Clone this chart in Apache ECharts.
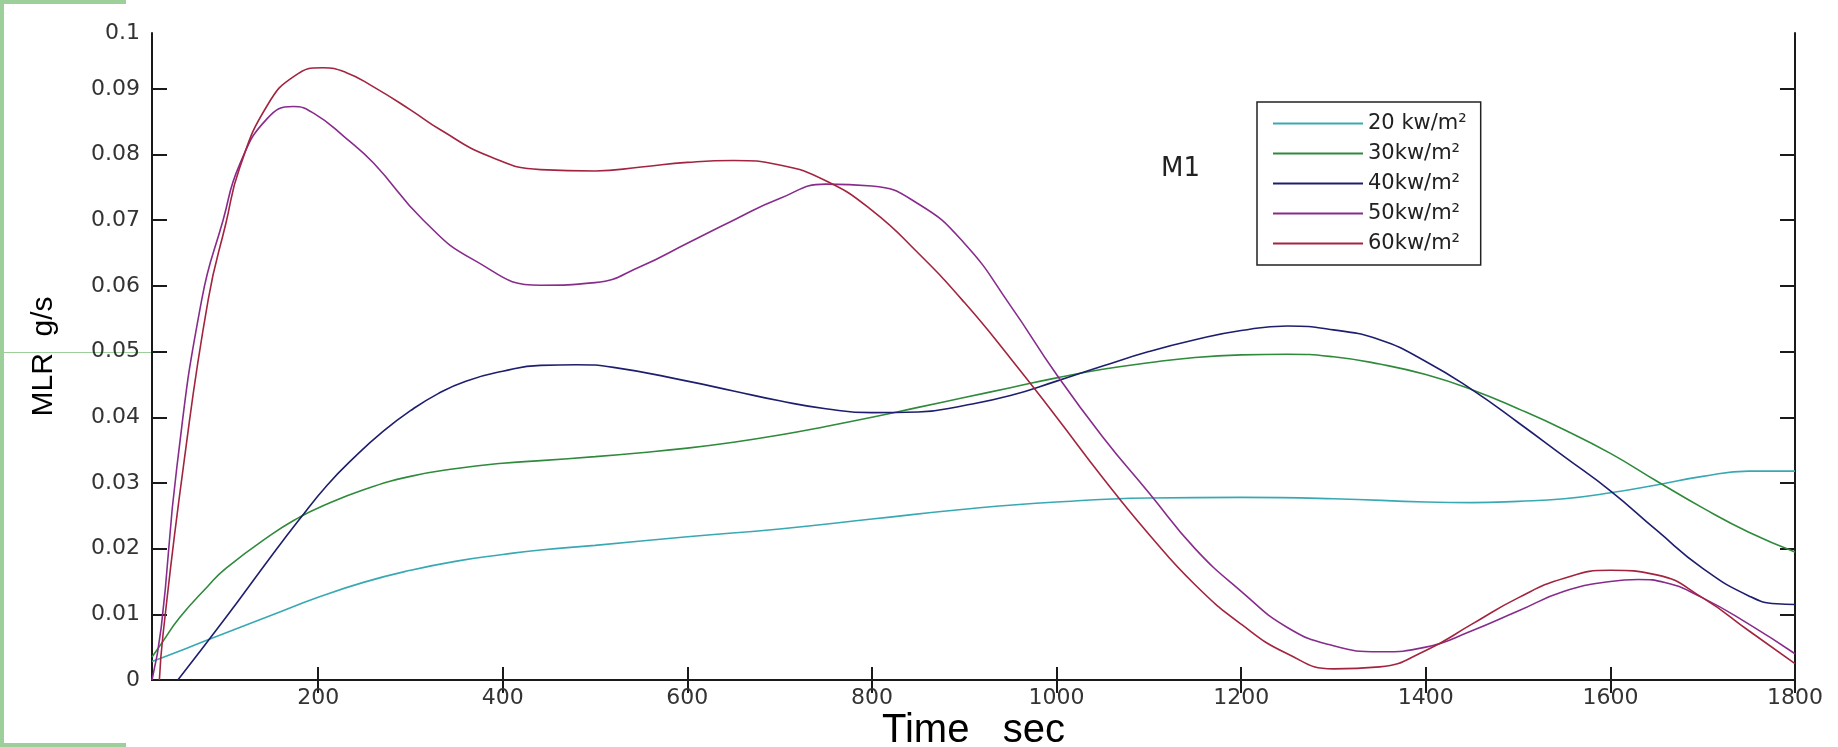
<!DOCTYPE html>
<html>
<head>
<meta charset="utf-8">
<script src="https://cdn.jsdelivr.net/npm/echarts@6/dist/echarts.min.js"></script>
<style>
    html, body { margin: 0; padding: 0; background: #fff; }
    #chart { width: 1838px; height: 747px; }
</style>
</head>
<body>
<div id="chart"></div>
<script>
// [time (sec), MLR (g/s)]
var kw20 = [[20,0.0028],[50,0.0044],[80,0.0061],[150,0.0099],[200,0.0126],[250,0.0149],[300,0.0167],[350,0.0181],[400,0.0191],[441,0.0198],[500,0.0205],[600,0.0218],[700,0.0230],[800,0.0245],[900,0.0260],[1000,0.0271],[1100,0.0277],[1200,0.0278],[1300,0.0276],[1400,0.0271],[1450,0.0270],[1500,0.0272],[1550,0.0276],[1600,0.0285],[1650,0.0297],[1700,0.0310],[1750,0.0318],[1800,0.0318]];
var kw30 = [[20,0.0035],[30,0.0055],[50,0.0095],[80,0.0142],[100,0.0170],[150,0.0222],[180,0.0248],[200,0.0262],[250,0.0290],[300,0.0310],[350,0.0322],[400,0.0330],[441,0.0334],[500,0.0340],[550,0.0346],[600,0.0353],[650,0.0362],[700,0.0373],[750,0.0386],[800,0.0400],[850,0.0415],[900,0.0430],[950,0.0445],[1000,0.0460],[1050,0.0473],[1100,0.0483],[1150,0.0491],[1200,0.0495],[1250,0.0496],[1300,0.0492],[1350,0.0481],[1400,0.0465],[1450,0.0442],[1500,0.0413],[1550,0.0381],[1600,0.0345],[1650,0.0303],[1700,0.0262],[1750,0.0225],[1800,0.0195]];
var kw40 = [[48,0],[100,0.0095],[150,0.0190],[180,0.0245],[210,0.0297],[240,0.0340],[270,0.0378],[300,0.0410],[330,0.0436],[360,0.0455],[400,0.0470],[441,0.0479],[480,0.0480],[520,0.0476],[600,0.0455],[650,0.0440],[700,0.0425],[750,0.0413],[800,0.0407],[850,0.0408],[900,0.0418],[950,0.0433],[1000,0.0455],[1050,0.0478],[1100,0.0500],[1150,0.0518],[1200,0.0532],[1250,0.0539],[1300,0.0533],[1350,0.0518],[1400,0.0485],[1450,0.0442],[1500,0.0392],[1550,0.0340],[1600,0.0288],[1650,0.0228],[1700,0.0170],[1750,0.0128],[1780,0.0116],[1800,0.0115]];
var kw50 = [[20,0],[30,0.008],[47,0.0325],[74,0.058],[97,0.070],[115,0.0785],[145,0.0855],[173,0.0873],[195,0.0863],[230,0.0825],[260,0.0787],[314,0.0700],[368,0.0640],[441,0.0601],[500,0.0605],[550,0.0630],[600,0.0665],[650,0.0700],[700,0.0733],[750,0.0755],[800,0.0752],[850,0.0725],[900,0.0665],[950,0.0570],[1000,0.0465],[1050,0.0370],[1100,0.0285],[1150,0.0200],[1200,0.0135],[1250,0.0080],[1300,0.0052],[1350,0.0043],[1400,0.0050],[1450,0.0075],[1500,0.0105],[1550,0.0135],[1600,0.0150],[1630,0.0153],[1660,0.0148],[1700,0.0125],[1750,0.0085],[1800,0.0040]];
var kw60 = [[28,0],[32,0.007],[54,0.0325],[81,0.058],[100,0.0695],[115,0.078],[145,0.0875],[175,0.0920],[205,0.0932],[230,0.0925],[260,0.0903],[300,0.0868],[332,0.0838],[386,0.0797],[441,0.0777],[500,0.0775],[550,0.0781],[600,0.0788],[650,0.0791],[700,0.0784],[750,0.0760],[800,0.0715],[850,0.0650],[900,0.0575],[950,0.0490],[1000,0.0400],[1050,0.0308],[1100,0.0222],[1150,0.0145],[1200,0.0085],[1250,0.0040],[1300,0.0017],[1350,0.0020],[1400,0.0045],[1450,0.0085],[1500,0.0125],[1550,0.0155],[1600,0.0167],[1650,0.0160],[1700,0.0125],[1750,0.0075],[1800,0.0025]];

var seriesNames = ['20 kw/m\u00b2', '30kw/m\u00b2', '40kw/m\u00b2', '50kw/m\u00b2', '60kw/m\u00b2'];
var seriesData = [kw20, kw30, kw40, kw50, kw60];
var colors = ['#38a9b3', '#2f8a3c', '#1e1e6e', '#872c8c', '#a3243f'];

var xTicks = [200, 400, 600, 800, 1000, 1200, 1400, 1600, 1800];
var yTicks = [0, 0.01, 0.02, 0.03, 0.04, 0.05, 0.06, 0.07, 0.08, 0.09];
var yTop = 0.0985;   // the top of the box is labelled 0.1 in the figure

function createViz() {
    var myChart = echarts.init(document.getElementById('chart'));
    var labelFont = 'DejaVu Sans';
    var frame = { lineStyle: { color: '#1a1a1a', width: 2 } };
    var tickLine = { color: '#1a1a1a', width: 2 };

    var series = seriesNames.map(function(name, i) {
        return {
            name: name,
            type: 'line',
            data: seriesData[i],
            smooth: 0.5,
            showSymbol: false,
            lineStyle: { width: 1.6, color: colors[i] },
            itemStyle: { color: colors[i] }
        };
    });

    var option = {
        backgroundColor: '#fff',
        animation: false,
        color: colors,
        title: {
            text: 'M1',
            left: 1156,
            top: 151,
            textStyle: { fontFamily: labelFont, fontSize: 26, fontWeight: 'normal', color: '#222' }
        },
        legend: {
            orient: 'vertical',
            left: 1257,
            top: 102,
            padding: [11, 14, 11, 16],
            itemWidth: 90,
            itemHeight: 2,
            itemGap: 9,
            icon: 'rect',
            borderColor: '#222',
            borderWidth: 1.5,
            backgroundColor: '#fff',
            textStyle: { fontFamily: labelFont, fontSize: 21, color: '#222', lineHeight: 21 },
            data: seriesNames
        },
        // fixed box, do not let the axis name shrink it
        grid: { left: 152, top: 33, width: 1643, height: 647, outerBoundsMode: 'none' },
        xAxis: [
            {
                type: 'value', min: 20, max: 1800, position: 'bottom',
                axisLine: frame,
                axisTick: { inside: true, length: 13, customValues: xTicks, lineStyle: tickLine },
                axisLabel: {
                    customValues: xTicks, margin: 7,
                    fontFamily: labelFont, fontSize: 22, color: '#333',
                    formatter: function(v) { return String(v); }
                },
                splitLine: { show: false },
                name: 'Time   sec',
                nameLocation: 'middle',
                nameGap: 31,
                nameMoveOverlap: false,
                nameTextStyle: { fontFamily: 'Liberation Sans', fontSize: 40, color: '#000' }
            },
            {
                type: 'value', min: 20, max: 1800, position: 'top',
                axisLine: frame,
                axisTick: { inside: true, length: 13, customValues: xTicks, lineStyle: tickLine },
                axisLabel: { show: false },
                splitLine: { show: false }
            }
        ],
        yAxis: [
            {
                type: 'value', min: 0, max: yTop, position: 'left',
                axisLine: frame,
                axisTick: { inside: true, length: 15, customValues: yTicks, lineStyle: tickLine },
                axisLabel: {
                    customValues: yTicks.concat([yTop]),
                    margin: 12,
                    fontFamily: labelFont, fontSize: 22, color: '#333',
                    formatter: function(v) {
                        if (v > 0.095) return '0.1';
                        return v === 0 ? '0' : v.toFixed(2);
                    }
                },
                splitLine: { show: false },
                name: 'MLR  g/s',
                nameLocation: 'middle',
                nameGap: 93,
                nameMoveOverlap: false,
                nameTextStyle: { fontFamily: 'Liberation Sans', fontSize: 30, color: '#000' }
            },
            {
                type: 'value', min: 0, max: yTop, position: 'right',
                axisLine: frame,
                axisTick: { inside: true, length: 15, customValues: yTicks, lineStyle: tickLine },
                axisLabel: { show: false },
                splitLine: { show: false }
            }
        ],
        // green scan edges around the original image
        graphic: [
            { type: 'rect', shape: { x: 0, y: 0, width: 4, height: 747 }, style: { fill: '#9dcf9b' } },
            { type: 'rect', shape: { x: 0, y: 0, width: 126, height: 4 }, style: { fill: '#9dcf9b' } },
            { type: 'rect', shape: { x: 0, y: 743, width: 126, height: 4 }, style: { fill: '#9dcf9b' } },
            { type: 'rect', shape: { x: 0, y: 352, width: 152, height: 1 }, style: { fill: '#9dcf9b' } }
        ],
        series: series
    };

    myChart.setOption(option);
}

createViz();
</script>
</body>
</html>
